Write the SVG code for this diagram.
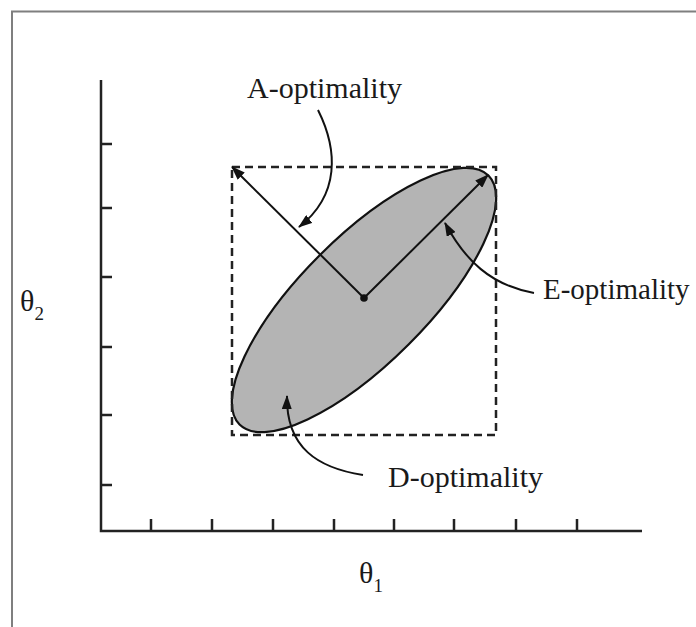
<svg xmlns="http://www.w3.org/2000/svg" width="696" height="627" viewBox="0 0 696 627">
  <defs>
    <style>
      .lbl { font-family: "Liberation Serif", "Times New Roman", serif; font-size: 30px; fill: #1a1a1a; }
      .sub { font-size: 19px; }
      .axis { stroke: #222; stroke-width: 2.5; fill: none; }
      .conn { stroke: #111; stroke-width: 2; fill: none; }
    </style>
    <marker id="ah" viewBox="0 0 14 10" refX="13" refY="5" markerWidth="14" markerHeight="10" markerUnits="userSpaceOnUse" orient="auto">
      <path d="M0,0 L14,5 L0,10 Z" fill="#111"/>
    </marker>
  </defs>
  <rect x="0" y="0" width="696" height="627" fill="#fff"/>
  <path id="frame" d="M12,627 V11.5 H696" fill="none" stroke="#7f7f7f" stroke-width="2"/>

  <g id="axes" class="axis">
    <path d="M101,80 V531 H642"/>
    <path d="M101,144 h11 M101,208 h11 M101,277 h11 M101,347 h11 M101,415 h11 M101,485 h11"/>
    <path d="M151,531 v-12 M212,531 v-12 M273,531 v-12 M334,531 v-12 M394,531 v-12 M454,531 v-12 M516,531 v-12 M577,531 v-12"/>
  </g>

  <g id="ellipse">
    <ellipse cx="364" cy="300" rx="176" ry="63" transform="rotate(-45 364 300)" fill="#b4b4b4" stroke="#111" stroke-width="2.2"/>
  </g>

  <g id="box">
    <rect x="232" y="167" width="264" height="268" fill="none" stroke="#222" stroke-width="2.5" stroke-dasharray="8 5"/>
  </g>

  <g id="center">
    <circle cx="364" cy="298" r="3.8" fill="#111"/>
  </g>

  <g id="connectors">
    <path class="conn" d="M364,298 L232,167" marker-end="url(#ah)"/>
    <path class="conn" d="M364,298 L488,175" marker-end="url(#ah)"/>
    <path class="conn" d="M318,110 C338,150 340,195 299,227" marker-end="url(#ah)"/>
    <path class="conn" d="M534,293 C490,285 465,260 445,223" marker-end="url(#ah)"/>
    <path class="conn" d="M363,475 C318,468 286,448 287,396" marker-end="url(#ah)"/>
  </g>

  <g id="label-a"><text class="lbl" x="247" y="98">A-optimality</text></g>
  <g id="label-e"><text class="lbl" x="543" y="299" style="font-size:29px">E-optimality</text></g>
  <g id="label-d"><text class="lbl" x="388" y="487">D-optimality</text></g>
  <g id="label-theta1"><text class="lbl" x="359" y="583">θ<tspan class="sub" dy="9">1</tspan></text></g>
  <g id="label-theta2"><text class="lbl" x="20" y="311">θ<tspan class="sub" dy="9">2</tspan></text></g>
</svg>
